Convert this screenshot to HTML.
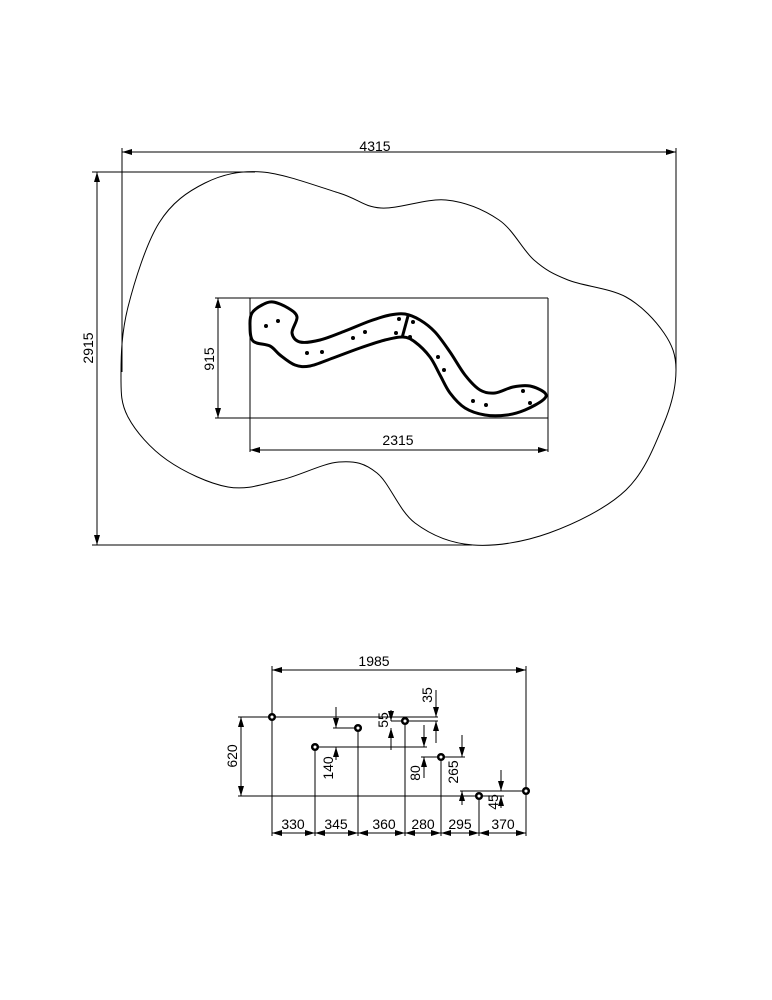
<!DOCTYPE html>
<html><head><meta charset="utf-8"><style>
html,body{margin:0;padding:0;background:#fff;}
svg{display:block;}
text{font-family:"Liberation Sans",sans-serif;font-size:14px;fill:#000;}
</style></head><body>
<svg id="s" width="772" height="1000" viewBox="0 0 772 1000" xmlns="http://www.w3.org/2000/svg">
<defs>
<marker id="a" viewBox="0 0 10 6" refX="10" refY="3" markerWidth="10" markerHeight="6" orient="auto-start-reverse" markerUnits="userSpaceOnUse"><path d="M0,0 L10,3 L0,6 z" fill="#000"/></marker>
</defs>
<g stroke="#000" stroke-width="1" fill="none">
<line x1="122" y1="148" x2="122" y2="372"/>
<line x1="676" y1="148" x2="676" y2="370"/>
<line x1="122" y1="152" x2="676" y2="152" marker-start="url(#a)" marker-end="url(#a)"/>
<line x1="92" y1="172" x2="255" y2="172"/>
<line x1="92" y1="545" x2="472" y2="545"/>
<line x1="97" y1="172" x2="97" y2="545" marker-start="url(#a)" marker-end="url(#a)"/>
<path id="blob" d=""/>
<line x1="215" y1="298" x2="548" y2="298"/>
<line x1="215" y1="418" x2="548" y2="418"/>
<line x1="250" y1="298" x2="250" y2="452"/>
<line x1="548" y1="298" x2="548" y2="452"/>
<line x1="218" y1="298" x2="218" y2="418" marker-start="url(#a)" marker-end="url(#a)"/>
<line x1="250" y1="450" x2="548" y2="450" marker-start="url(#a)" marker-end="url(#a)"/>
</g>
<path id="snake" d="" fill="none" stroke="#000" stroke-width="3" stroke-linejoin="round"/>
<line x1="408" y1="316" x2="402" y2="338" stroke="#000" stroke-width="3"/>
<g fill="#000">
<circle cx="266" cy="326" r="2"/><circle cx="278" cy="321" r="2"/><circle cx="307" cy="353" r="2"/><circle cx="322" cy="352" r="2"/>
<circle cx="353" cy="338" r="2"/><circle cx="365" cy="332" r="2"/><circle cx="396" cy="333" r="2"/><circle cx="399" cy="319" r="2"/>
<circle cx="413" cy="322" r="2"/><circle cx="410" cy="337" r="2"/><circle cx="438" cy="357" r="2"/><circle cx="444" cy="370" r="2"/>
<circle cx="473" cy="401" r="2"/><circle cx="486" cy="405" r="2"/><circle cx="523" cy="391" r="2"/><circle cx="530" cy="403" r="2"/>
</g>
<text x="375" y="151" text-anchor="middle">4315</text>
<text transform="translate(93,348) rotate(-90)" text-anchor="middle">2915</text>
<text transform="translate(214,359) rotate(-90)" text-anchor="middle">915</text>
<text x="398" y="445" text-anchor="middle">2315</text>

<g stroke="#000" stroke-width="1" fill="none">
<line x1="272" y1="666" x2="272" y2="836"/>
<line x1="526" y1="666" x2="526" y2="836"/>
<line x1="272" y1="670" x2="526" y2="670" marker-start="url(#a)" marker-end="url(#a)"/>
<line x1="238" y1="717" x2="438" y2="717"/>
<line x1="238" y1="796" x2="504" y2="796"/>
<line x1="241" y1="717" x2="241" y2="796" marker-start="url(#a)" marker-end="url(#a)"/>
<line x1="333" y1="728" x2="358" y2="728"/>
<line x1="315" y1="747" x2="427" y2="747"/>
<line x1="391" y1="721" x2="438" y2="721"/>
<line x1="421" y1="757" x2="465" y2="757"/>
<line x1="460" y1="791" x2="526" y2="791"/>
<line x1="315" y1="747" x2="315" y2="836"/>
<line x1="358" y1="728" x2="358" y2="836"/>
<line x1="405" y1="721" x2="405" y2="836"/>
<line x1="441" y1="757" x2="441" y2="836"/>
<line x1="479" y1="796" x2="479" y2="836"/>
<line x1="336" y1="707" x2="336" y2="728" marker-end="url(#a)"/><line x1="336" y1="760" x2="336" y2="747" marker-end="url(#a)"/>
<line x1="391" y1="710" x2="391" y2="721" marker-end="url(#a)"/><line x1="391" y1="750" x2="391" y2="728" marker-end="url(#a)"/>
<line x1="436" y1="690" x2="436" y2="717" marker-end="url(#a)"/><line x1="436" y1="743" x2="436" y2="721" marker-end="url(#a)"/>
<line x1="424" y1="725" x2="424" y2="747" marker-end="url(#a)"/><line x1="424" y1="778" x2="424" y2="757" marker-end="url(#a)"/>
<line x1="462" y1="735" x2="462" y2="757" marker-end="url(#a)"/><line x1="462" y1="805" x2="462" y2="791" marker-end="url(#a)"/>
<line x1="501" y1="770" x2="501" y2="791" marker-end="url(#a)"/><line x1="501" y1="808" x2="501" y2="796" marker-end="url(#a)"/>
<line x1="272" y1="833" x2="315" y2="833" marker-start="url(#a)" marker-end="url(#a)"/>
<line x1="315" y1="833" x2="358" y2="833" marker-start="url(#a)" marker-end="url(#a)"/>
<line x1="358" y1="833" x2="405" y2="833" marker-start="url(#a)" marker-end="url(#a)"/>
<line x1="405" y1="833" x2="441" y2="833" marker-start="url(#a)" marker-end="url(#a)"/>
<line x1="441" y1="833" x2="479" y2="833" marker-start="url(#a)" marker-end="url(#a)"/>
<line x1="479" y1="833" x2="526" y2="833" marker-start="url(#a)" marker-end="url(#a)"/>
</g>
<g fill="#fff" stroke="#000" stroke-width="2.5">
<circle cx="272" cy="717" r="2.8"/><circle cx="315" cy="747" r="2.8"/><circle cx="358" cy="728" r="2.8"/>
<circle cx="405" cy="721" r="2.8"/><circle cx="441" cy="757" r="2.8"/><circle cx="479" cy="796" r="2.8"/><circle cx="526" cy="791" r="2.8"/>
</g>
<text x="374" y="666" text-anchor="middle">1985</text>
<text transform="translate(237,756) rotate(-90)" text-anchor="middle">620</text>
<text transform="translate(333,768) rotate(-90)" text-anchor="middle">140</text>
<text transform="translate(388,720) rotate(-90)" text-anchor="middle">55</text>
<text transform="translate(432,695) rotate(-90)" text-anchor="middle">35</text>
<text transform="translate(420,773) rotate(-90)" text-anchor="middle">80</text>
<text transform="translate(458,772) rotate(-90)" text-anchor="middle">265</text>
<text transform="translate(498,802) rotate(-90)" text-anchor="middle">45</text>
<text x="293" y="829" text-anchor="middle">330</text>
<text x="336" y="829" text-anchor="middle">345</text>
<text x="384" y="829" text-anchor="middle">360</text>
<text x="423" y="829" text-anchor="middle">280</text>
<text x="460" y="829" text-anchor="middle">295</text>
<text x="503" y="829" text-anchor="middle">370</text>
</svg>
<script>
function cr(p){var n=p.length,d="M"+p[0][0]+","+p[0][1];
for(var i=0;i<n;i++){var p0=p[(i-1+n)%n],p1=p[i],p2=p[(i+1)%n],p3=p[(i+2)%n];
d+=" C"+(p1[0]+(p2[0]-p0[0])/6)+","+(p1[1]+(p2[1]-p0[1])/6)+" "+(p2[0]-(p3[0]-p1[0])/6)+","+(p2[1]-(p3[1]-p1[1])/6)+" "+p2[0]+","+p2[1];}
return d+"Z";}
document.getElementById("blob").setAttribute("d",cr([[262,172],[339,193],[381,208],[446,200],[499,220],[534,260],[568,280],[626,297],[664,333],[676,370],[664,423],[626,490],[549,533],[473,545],[415,523],[377,473],[339,462],[281,480],[228,487],[167,460],[128,417],[121,373],[128,307],[159,223],[205,183]]));
document.getElementById("snake").setAttribute("d",cr([[252,313],[262,305],[273,302],[288,308],[297,317],[292,333],[300,342],[320,340],[345,331],[370,321],[390,315],[405,314],[420,320],[435,332],[450,352],[465,375],[480,390],[495,393],[513,387],[530,386],[545,393],[543,400],[525,410],[507,415],[485,415],[465,408],[450,393],[440,375],[430,357],[415,342],[403,337],[385,340],[360,348],[333,358],[310,366],[295,365],[280,355],[270,346],[253,341],[250,325]]));
</script>
</body></html>
